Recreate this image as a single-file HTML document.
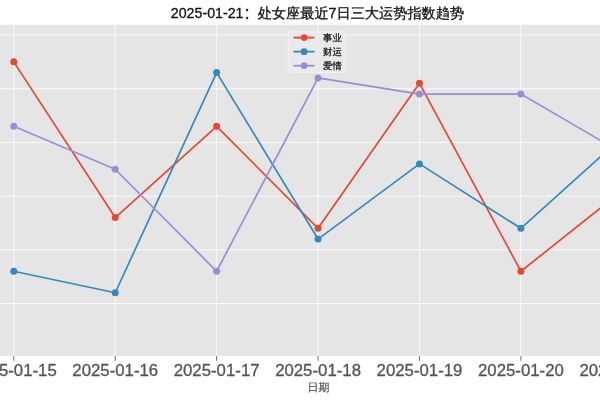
<!DOCTYPE html><html><head><meta charset="utf-8"><style>html,body{margin:0;padding:0;background:#fff;width:600px;height:400px;overflow:hidden}svg{display:block}text{font-family:"Liberation Sans", "WenQuanYi Zen Hei", sans-serif}</style></head><body>
<svg width="600" height="400" viewBox="0 0 600 400">
<rect x="-20" y="24.7" width="660" height="331.40" fill="#E5E5E5"/>
<g stroke="#FFFFFF" stroke-opacity="0.8" stroke-width="1.0"><line x1="-20" y1="303.50" x2="640" y2="303.50"/><line x1="-20" y1="249.80" x2="640" y2="249.80"/><line x1="-20" y1="196.10" x2="640" y2="196.10"/><line x1="-20" y1="142.40" x2="640" y2="142.40"/><line x1="-20" y1="88.70" x2="640" y2="88.70"/><line x1="-20" y1="35.00" x2="640" y2="35.00"/><line x1="13.80" y1="24.7" x2="13.80" y2="356.1"/><line x1="115.22" y1="24.7" x2="115.22" y2="356.1"/><line x1="216.64" y1="24.7" x2="216.64" y2="356.1"/><line x1="318.06" y1="24.7" x2="318.06" y2="356.1"/><line x1="419.48" y1="24.7" x2="419.48" y2="356.1"/><line x1="520.90" y1="24.7" x2="520.90" y2="356.1"/><line x1="622.32" y1="24.7" x2="622.32" y2="356.1"/></g>
<g stroke="#666666" stroke-width="1.0"><line x1="13.80" y1="356.1" x2="13.80" y2="360.80"/><line x1="115.22" y1="356.1" x2="115.22" y2="360.80"/><line x1="216.64" y1="356.1" x2="216.64" y2="360.80"/><line x1="318.06" y1="356.1" x2="318.06" y2="360.80"/><line x1="419.48" y1="356.1" x2="419.48" y2="360.80"/><line x1="520.90" y1="356.1" x2="520.90" y2="360.80"/><line x1="622.32" y1="356.1" x2="622.32" y2="360.80"/></g>
<polyline points="13.80,61.85 115.22,217.58 216.64,126.29 318.06,228.32 419.48,83.33 520.90,271.28 622.32,190.73" fill="none" stroke="#E24A33" stroke-width="1.7" stroke-linejoin="round" stroke-linecap="round"/>
<circle cx="13.80" cy="61.85" r="3.5" fill="#E24A33"/>
<circle cx="115.22" cy="217.58" r="3.5" fill="#E24A33"/>
<circle cx="216.64" cy="126.29" r="3.5" fill="#E24A33"/>
<circle cx="318.06" cy="228.32" r="3.5" fill="#E24A33"/>
<circle cx="419.48" cy="83.33" r="3.5" fill="#E24A33"/>
<circle cx="520.90" cy="271.28" r="3.5" fill="#E24A33"/>
<circle cx="622.32" cy="190.73" r="3.5" fill="#E24A33"/>
<polyline points="13.80,271.28 115.22,292.76 216.64,72.59 318.06,239.06 419.48,163.88 520.90,228.32 622.32,137.03" fill="none" stroke="#348ABD" stroke-width="1.7" stroke-linejoin="round" stroke-linecap="round"/>
<circle cx="13.80" cy="271.28" r="3.5" fill="#348ABD"/>
<circle cx="115.22" cy="292.76" r="3.5" fill="#348ABD"/>
<circle cx="216.64" cy="72.59" r="3.5" fill="#348ABD"/>
<circle cx="318.06" cy="239.06" r="3.5" fill="#348ABD"/>
<circle cx="419.48" cy="163.88" r="3.5" fill="#348ABD"/>
<circle cx="520.90" cy="228.32" r="3.5" fill="#348ABD"/>
<circle cx="622.32" cy="137.03" r="3.5" fill="#348ABD"/>
<polyline points="13.80,126.29 115.22,169.25 216.64,271.28 318.06,77.96 419.48,94.07 520.90,94.07 622.32,153.14" fill="none" stroke="#988ED5" stroke-width="1.7" stroke-linejoin="round" stroke-linecap="round"/>
<circle cx="13.80" cy="126.29" r="3.5" fill="#988ED5"/>
<circle cx="115.22" cy="169.25" r="3.5" fill="#988ED5"/>
<circle cx="216.64" cy="271.28" r="3.5" fill="#988ED5"/>
<circle cx="318.06" cy="77.96" r="3.5" fill="#988ED5"/>
<circle cx="419.48" cy="94.07" r="3.5" fill="#988ED5"/>
<circle cx="520.90" cy="94.07" r="3.5" fill="#988ED5"/>
<circle cx="622.32" cy="153.14" r="3.5" fill="#988ED5"/>
<rect x="288.3" y="31.8" width="57.0" height="40.6" rx="2" ry="2" fill="#EAEAEA" stroke="#F2F2F2" stroke-width="1"/>
<line x1="293.5" y1="37.6" x2="314.5" y2="37.6" stroke="#E24A33" stroke-width="1.8"/>
<circle cx="304.1" cy="37.6" r="3.4" fill="#E24A33"/>
<text x="323.0" y="40.80" font-size="9.4" fill="#111" stroke="#111" stroke-width="0.25">事业</text>
<line x1="293.5" y1="51.650000000000006" x2="314.5" y2="51.650000000000006" stroke="#348ABD" stroke-width="1.8"/>
<circle cx="304.1" cy="51.650000000000006" r="3.4" fill="#348ABD"/>
<text x="323.0" y="54.85" font-size="9.4" fill="#111" stroke="#111" stroke-width="0.25">财运</text>
<line x1="293.5" y1="65.7" x2="314.5" y2="65.7" stroke="#988ED5" stroke-width="1.8"/>
<circle cx="304.1" cy="65.7" r="3.4" fill="#988ED5"/>
<text x="323.0" y="68.90" font-size="9.4" fill="#111" stroke="#111" stroke-width="0.25">爱情</text>
<text x="13.80" y="376" font-size="16.8" fill="#555555" stroke="#555555" stroke-width="0.3" text-anchor="middle">2025-01-15</text>
<text x="115.22" y="376" font-size="16.8" fill="#555555" stroke="#555555" stroke-width="0.3" text-anchor="middle">2025-01-16</text>
<text x="216.64" y="376" font-size="16.8" fill="#555555" stroke="#555555" stroke-width="0.3" text-anchor="middle">2025-01-17</text>
<text x="318.06" y="376" font-size="16.8" fill="#555555" stroke="#555555" stroke-width="0.3" text-anchor="middle">2025-01-18</text>
<text x="419.48" y="376" font-size="16.8" fill="#555555" stroke="#555555" stroke-width="0.3" text-anchor="middle">2025-01-19</text>
<text x="520.90" y="376" font-size="16.8" fill="#555555" stroke="#555555" stroke-width="0.3" text-anchor="middle">2025-01-20</text>
<text x="622.32" y="376" font-size="16.8" fill="#555555" stroke="#555555" stroke-width="0.3" text-anchor="middle">2025-01-21</text>
<text x="318.6" y="391" font-size="11" fill="#555555" stroke="#555555" stroke-width="0.2" text-anchor="middle">日期</text>
<text x="317.5" y="17.8" font-size="14.2" fill="#111" stroke="#111" stroke-width="0.3" text-anchor="middle">2025-01-21<tspan font-family="&quot;Liberation Sans&quot;, &quot;Noto Sans CJK SC&quot;, sans-serif">：</tspan>处女座最近7日三大运势指数趋势</text>
</svg></body></html>
